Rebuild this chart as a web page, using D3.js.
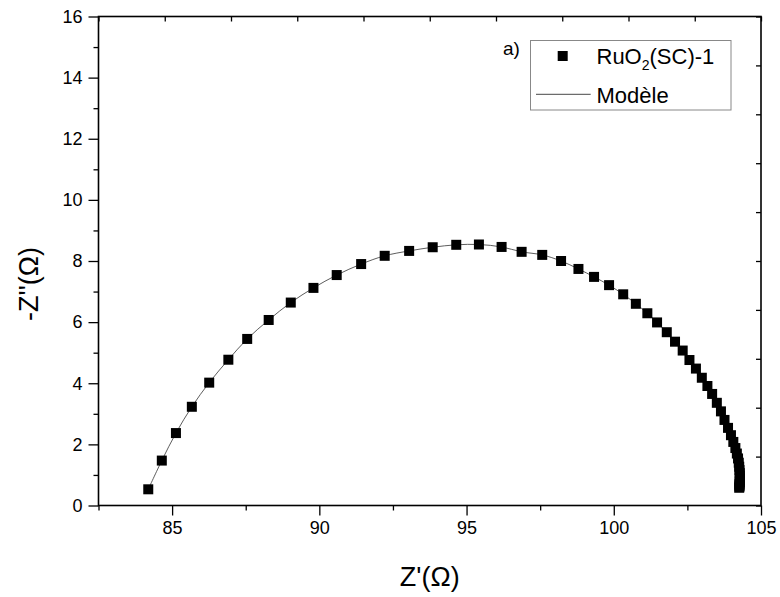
<!DOCTYPE html>
<html><head><meta charset="utf-8">
<script src="https://cdn.jsdelivr.net/npm/d3@7/dist/d3.min.js"></script>
<style>
body{margin:0;background:#fff}
svg{display:block}
text{font-family:"Liberation Sans",Arial,Helvetica,sans-serif;fill:#000}
</style>
</head><body>
<svg id="chart" width="780" height="597"></svg>
<script>
// Data (Z' in ohm, -Z'' in ohm)
const zReal = [84.19,84.65,85.13,85.67,86.26,86.91,87.55,88.28,89.03,89.80,90.59,91.42,92.22,93.05,93.85,94.65,95.42,96.19,96.87,97.57,98.21,98.80,99.33,99.84,100.32,100.75,101.14,101.47,101.80,102.08,102.34,102.57,102.79,102.99,103.18,103.34,103.50,103.64,103.76,103.88,103.98,104.06,104.13,104.18,104.22,104.245,104.26,104.27,104.28,104.28,104.28,104.28,104.28,104.27,104.27,104.27,104.26];
const zImag = [0.53,1.47,2.37,3.23,4.02,4.77,5.45,6.07,6.64,7.12,7.54,7.90,8.17,8.33,8.45,8.53,8.54,8.46,8.30,8.20,8.00,7.74,7.48,7.21,6.91,6.60,6.29,5.99,5.67,5.36,5.07,4.76,4.48,4.18,3.91,3.65,3.36,3.08,2.80,2.54,2.30,2.08,1.88,1.70,1.54,1.40,1.27,1.16,1.06,0.97,0.89,0.82,0.76,0.71,0.66,0.62,0.58];
const xMajorTicks = [85,90,95,100,105];
const xMinorTicks = [82.5,87.5,92.5,97.5,102.5];
const yMajorTicks = [0,2,4,6,8,10,12,14,16];
const yMinorTicks = [1,3,5,7,9,11,13,15];
const seriesName = ["RuO","2","(SC)-1"];
const modelName = "Modèle";
const panelLabel = "a)";
const xTitle = "Z'(Ω)";
const yTitle = "-Z''(Ω)";

const svg = d3.select("#chart");
const L = 98.5, R = 761, T = 16.5, B = 505.5;
const x = d3.scaleLinear([82.5,105],[L,R]);
const y = d3.scaleLinear([0,16],[B,T]);

// model line
const pts = zReal.map((v,i)=>[v,zImag[i]]);
svg.append("path")
  .attr("d", d3.line().x(d=>x(d[0])).y(d=>y(d[1])).curve(d3.curveCatmullRom)(pts))
  .attr("fill","none").attr("stroke","#333").attr("stroke-width",0.8);

// markers
const ms = 10;
svg.append("g").selectAll("rect").data(pts).join("rect")
  .attr("x",d=>x(d[0])-ms/2).attr("y",d=>y(d[1])-ms/2)
  .attr("width",ms).attr("height",ms).attr("fill","#000");

// axes
function styleAxis(g){
  g.select(".domain").remove();
  g.selectAll(".tick line").attr("stroke","#000").attr("stroke-width",1.3);
}
const fs = 18;
svg.append("g").attr("transform",`translate(0,${B})`)
  .call(d3.axisBottom(x).tickValues(xMajorTicks).tickSize(10).tickPadding(6).tickFormat(d3.format("d")))
  .call(styleAxis)
  .call(g=>g.selectAll("text").attr("font-size",fs).attr("font-family","Liberation Sans, Arial, sans-serif"));
svg.append("g").attr("transform",`translate(0,${B})`)
  .call(d3.axisBottom(x).tickValues(xMinorTicks).tickSize(5).tickFormat(""))
  .call(styleAxis);
svg.append("g").attr("transform",`translate(${L},0)`)
  .call(d3.axisLeft(y).tickValues(yMajorTicks).tickSize(10).tickPadding(6).tickFormat(d3.format("d")))
  .call(styleAxis)
  .call(g=>g.selectAll("text").attr("font-size",fs).attr("font-family","Liberation Sans, Arial, sans-serif"));
svg.append("g").attr("transform",`translate(${L},0)`)
  .call(d3.axisLeft(y).tickValues(yMinorTicks).tickSize(5).tickFormat(""))
  .call(styleAxis);

// top and right: 10 equal inward intervals
const topS = d3.scaleLinear([0,10],[L,R]);
const rightS = d3.scaleLinear([0,10],[B,T]);
svg.append("g").attr("transform",`translate(0,${T})`)
  .call(d3.axisTop(topS).ticks(10).tickSize(-5).tickFormat(""))
  .call(styleAxis);
svg.append("g").attr("transform",`translate(${R},0)`)
  .call(d3.axisRight(rightS).ticks(10).tickSize(-5).tickFormat(""))
  .call(styleAxis);

// frame
svg.append("rect").attr("x",L).attr("y",T).attr("width",R-L).attr("height",B-T)
  .attr("fill","none").attr("stroke","#000").attr("stroke-width",1.6);

// axis titles
svg.append("text").attr("x",(L+R)/2).attr("y",586).attr("text-anchor","middle")
  .attr("font-size",27).text(xTitle);
svg.append("text").attr("transform","translate(38,284) rotate(-90)").attr("text-anchor","middle")
  .attr("font-size",27).text(yTitle);

// panel label
svg.append("text").attr("x",503).attr("y",55).attr("font-size",19).text(panelLabel);

// legend
svg.append("rect").attr("x",530.5).attr("y",40.5).attr("width",200.5).attr("height",69.5)
  .attr("fill","#fff").attr("stroke","#888").attr("stroke-width",1);
svg.append("rect").attr("x",562.7-ms/2).attr("y",56-ms/2).attr("width",ms).attr("height",ms).attr("fill","#000");
const t1 = svg.append("text").attr("x",596.5).attr("y",64).attr("font-size",22);
t1.append("tspan").text(seriesName[0]);
t1.append("tspan").attr("font-size",14).attr("dy",6).text(seriesName[1]);
t1.append("tspan").attr("dy",-6).text(seriesName[2]);
svg.append("line").attr("x1",536).attr("x2",590.7).attr("y1",94.3).attr("y2",94.3)
  .attr("stroke","#333").attr("stroke-width",0.9);
svg.append("text").attr("x",596.5).attr("y",102.5).attr("font-size",22).text(modelName);
</script>
</body></html>
